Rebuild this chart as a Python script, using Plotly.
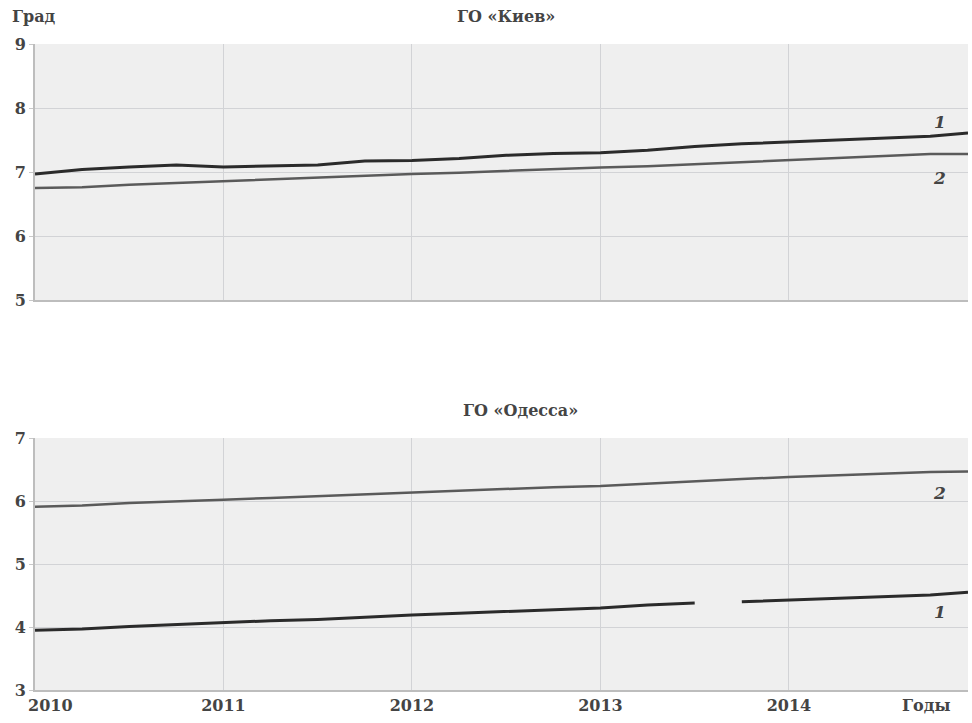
import plotly.graph_objects as go

# ---- data ----
years = [2010.00, 2010.25, 2010.50, 2010.75, 2011.00, 2011.25, 2011.50, 2011.75,
         2012.00, 2012.25, 2012.50, 2012.75, 2013.00, 2013.25, 2013.50, 2013.75,
         2014.00, 2014.25, 2014.50, 2014.75, 2014.95]

kiev_1 = [6.97, 7.04, 7.08, 7.11, 7.08, 7.10, 7.11, 7.17, 7.18, 7.21, 7.26,
          7.29, 7.30, 7.34, 7.40, 7.44, 7.47, 7.49, 7.52, 7.56, 7.61]
kiev_2 = [6.75, 6.76, 6.80, 6.83, 6.86, 6.88, 6.91, 6.94, 6.97, 6.99, 7.02,
          7.05, 7.07, 7.09, 7.12, 7.16, 7.19, 7.21, 7.24, 7.28, 7.28]

odessa_2 = [5.91, 5.93, 5.97, 5.99, 6.02, 6.05, 6.08, 6.11, 6.14, 6.17, 6.20,
            6.22, 6.24, 6.28, 6.31, 6.35, 6.38, 6.41, 6.44, 6.46, 6.47]

odessa_1_years = [2010.00, 2010.25, 2010.50, 2010.75, 2011.00, 2011.25, 2011.50,
                  2011.75, 2012.00, 2012.25, 2012.50, 2012.75, 2013.00, 2013.25,
                  2013.50, 2013.62, 2013.75, 2014.00, 2014.25, 2014.50, 2014.75,
                  2014.95]
odessa_1 = [3.95, 3.97, 4.01, 4.04, 4.08, 4.10, 4.12, 4.16, 4.19, 4.22, 4.25,
            4.28, 4.30, 4.35, 4.38, None, 4.40, 4.43, 4.46, 4.49, 4.51, 4.55]

year_ticks = [2010, 2011, 2012, 2013, 2014]
year_labels = ["2010", "2011", "2012", "2013", "2014"]
kiev_ticks = [5, 6, 7, 8, 9]
odessa_ticks = [3, 4, 5, 6, 7]

FONT = "DejaVu Serif"
TXT = "#444444"

def bold(labels):
    return ["<b>%s</b>" % l for l in labels]

fig = go.Figure()
fig.add_trace(go.Scatter(x=years, y=kiev_1, mode="lines", xaxis="x2", yaxis="y2",
                         line=dict(color="#2b2b2b", width=3)))
fig.add_trace(go.Scatter(x=years, y=kiev_2, mode="lines", xaxis="x2", yaxis="y2",
                         line=dict(color="#5a5a5a", width=2.5)))
fig.add_trace(go.Scatter(x=years, y=odessa_2, mode="lines", xaxis="x", yaxis="y",
                         line=dict(color="#5a5a5a", width=2.5)))
fig.add_trace(go.Scatter(x=odessa_1_years, y=odessa_1, mode="lines", xaxis="x", yaxis="y",
                         line=dict(color="#2b2b2b", width=3), connectgaps=False))

xrange = [2010, 2014.95]
axis_common = dict(showgrid=True, gridcolor="#d2d3d6", gridwidth=1,
                   showline=True, linecolor="#bdbdbd", linewidth=2,
                   zeroline=False,
                   tickfont=dict(family=FONT, size=16, color=TXT))

fig.update_layout(
    width=972, height=723,
    margin=dict(l=35, r=4, t=44, b=33),
    paper_bgcolor="white", plot_bgcolor="#efefef",
    showlegend=False,
    xaxis=dict(axis_common, range=xrange, tickvals=year_ticks[1:],
               ticktext=bold(year_labels[1:]), anchor="y", domain=[0, 1]),
    yaxis=dict(axis_common, range=[3, 7], tickvals=odessa_ticks,
               ticktext=bold([str(v) for v in odessa_ticks]), domain=[0, 0.390],
               anchor="x", ticks="outside", ticklen=4, tickcolor="#c8c8c8"),
    xaxis2=dict(axis_common, range=xrange, tickvals=year_ticks, showticklabels=False,
                anchor="y2", domain=[0, 1], matches="x"),
    yaxis2=dict(axis_common, range=[5, 9], tickvals=kiev_ticks,
                ticktext=bold([str(v) for v in kiev_ticks]), domain=[0.6037, 1],
                anchor="x2", ticks="outside", ticklen=4, tickcolor="#c8c8c8"),
)

fig.add_annotation(text="<b>Град</b>", xref="paper", yref="paper", x=-0.027, y=1.042,
                   xanchor="left", yanchor="middle", showarrow=False,
                   font=dict(family=FONT, size=16, color=TXT))
fig.add_annotation(text="<b>ГО «Киев»</b>", xref="paper", yref="paper", x=0.505, y=1.042,
                   xanchor="center", yanchor="middle", showarrow=False,
                   font=dict(family=FONT, size=16, color=TXT))
fig.add_annotation(text="<b>ГО «Одесса»</b>", xref="paper", yref="paper", x=0.52, y=0.432,
                   xanchor="center", yanchor="middle", showarrow=False,
                   font=dict(family=FONT, size=16, color=TXT))
fig.add_annotation(text="<b>2010</b>", xref="x", yref="paper", x=2010, y=0,
                   xanchor="center", yanchor="top", yshift=-4, xshift=15, showarrow=False,
                   font=dict(family=FONT, size=16, color=TXT))
fig.add_annotation(text="<b>Годы</b>", xref="paper", yref="paper", x=0.955, y=0,
                   xanchor="center", yanchor="top", yshift=-4, showarrow=False,
                   font=dict(family=FONT, size=16, color=TXT))
# line labels
for txt, xv, yv, xa, ya in [("1", 2014.8, 7.78, "x2", "y2"), ("2", 2014.8, 6.9, "x2", "y2"),
                            ("2", 2014.8, 6.13, "x", "y"), ("1", 2014.8, 4.24, "x", "y")]:
    fig.add_annotation(text="<b><i>%s</i></b>" % txt, xref=xa, yref=ya, x=xv, y=yv,
                       showarrow=False, font=dict(family=FONT, size=17, color=TXT))

fig.write_html("out.html")
